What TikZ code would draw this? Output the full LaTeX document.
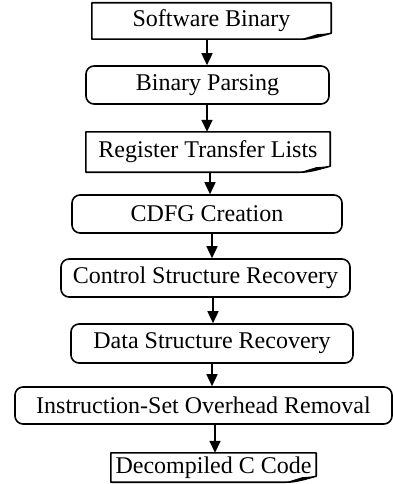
\documentclass[tikz,border=0pt]{standalone}
\usepackage{fontspec}
\setmainfont{Liberation Serif}
\usetikzlibrary{arrows.meta}
\tikzset{
  boxline/.style={line width=1.6pt, line join=round},
  procbox/.style={draw, boxline, rounded corners=8pt, inner sep=0pt, align=center},
  docbox/.style={inner sep=0pt, align=center},
  flow/.style={line width=1.6pt, -{Triangle[length=12pt,width=11pt]}},
}
\newcommand\docoutline[1]{%
  \draw[boxline] (#1.north west) -- (#1.north east) -- ([yshift=6pt]#1.south east)
    .. controls ([xshift=-8pt,yshift=4pt]#1.south east) and ([xshift=-20pt]#1.south east) .. ([xshift=-30pt]#1.south east)
    -- (#1.south west) -- cycle;
  \fill ([xshift=-30pt]#1.south east) -- ([xshift=-14pt,yshift=5pt]#1.south east) -- ([yshift=6pt]#1.south east) -- ([xshift=-10pt,yshift=3pt]#1.south east) -- cycle;}
\begin{document}
\begin{tikzpicture}[x=1pt,y=-1pt,font=\fontsize{24}{28}\selectfont]
\useasboundingbox (0,0) rectangle (393,484);
\node[docbox, minimum width=239pt, minimum height=36pt] (sb) at (211.5,21) {Software Binary};
\docoutline{sb}
\node[procbox, minimum width=243pt, minimum height=38pt] (bp) at (207.5,85) {Binary Parsing};
\node[docbox, minimum width=244pt, minimum height=40pt] (rtl) at (208,152) {Register Transfer Lists};
\docoutline{rtl}
\node[procbox, minimum width=270pt, minimum height=38pt] (cdfg) at (207,214) {CDFG Creation};
\node[procbox, minimum width=289pt, minimum height=38pt] (csr) at (205.5,278) {Control Structure Recovery};
\node[procbox, minimum width=282pt, minimum height=39pt] (dsr) at (212,343.5) {Data Structure Recovery};
\node[procbox, minimum width=377pt, minimum height=37pt] (isr) at (203.5,405.5) {Instruction-Set Overhead Removal};
\node[docbox, minimum width=205pt, minimum height=29pt] (dcc) at (213.5,467.5) {Decompiled C Code};
\docoutline{dcc}
\coordinate (a1) at (207,0);
\coordinate (a2) at (207,0);
\coordinate (a3) at (210,0);
\coordinate (a4) at (212,0);
\coordinate (a5) at (213,0);
\coordinate (a6) at (212,0);
\coordinate (a7) at (215,0);
\draw[flow] (sb.south -| a1) -- (bp.north -| a1);
\draw[flow] (bp.south -| a2) -- (rtl.north -| a2);
\draw[flow] (rtl.south -| a3) -- (cdfg.north -| a3);
\draw[flow] (cdfg.south -| a4) -- (csr.north -| a4);
\draw[flow] (csr.south -| a5) -- (dsr.north -| a5);
\draw[flow] (dsr.south -| a6) -- (isr.north -| a6);
\draw[flow] (isr.south -| a7) -- (dcc.north -| a7);
\end{tikzpicture}
\end{document}
